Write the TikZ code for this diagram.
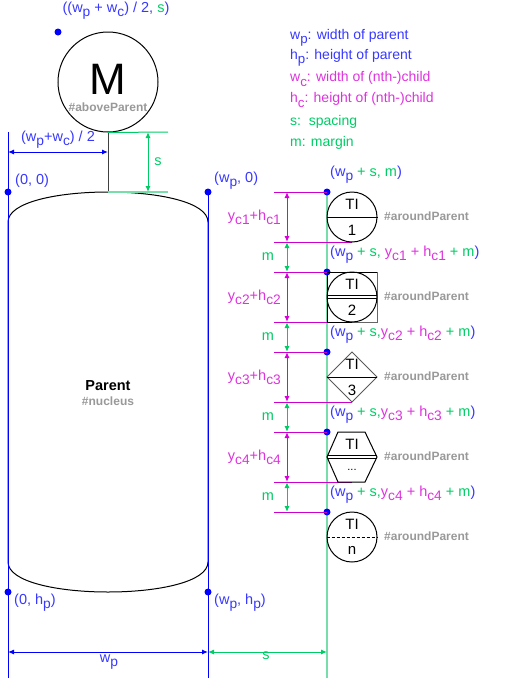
\documentclass[tikz,border=0pt]{standalone}
\usepackage{fontspec}
\setmainfont{Liberation Sans}
\usepackage{graphicx}
\usetikzlibrary{arrows.meta}
\definecolor{lblue}{HTML}{0000FF}
\definecolor{tblue}{HTML}{3838FF}
\definecolor{lmag}{HTML}{CC00CC}
\definecolor{tmag}{HTML}{DD33DD}
\definecolor{lgrn}{HTML}{00CC66}
\definecolor{pgrn}{HTML}{77DDAA}
\definecolor{pmag}{HTML}{DD77DD}
\definecolor{gry}{HTML}{999999}
\newcommand\sbs[1]{\raisebox{-0.55ex}{\scalebox{0.95}{#1}}}
\newcommand\gr[1]{\textcolor{lgrn}{#1}}
\newcommand\mg[1]{\textcolor{tmag}{#1}}
\begin{document}
\begin{tikzpicture}[x=1pt,y=-1pt,
  lbl/.style={font=\fontsize{14.5}{16}\selectfont, inner sep=0pt, text=tblue},
  leg/.style={font=\fontsize{14}{15}\selectfont, inner sep=0pt, anchor=west},
  tag/.style={font=\bfseries\fontsize{12}{14}\selectfont, text=gry, inner sep=0pt},
  dot/.style={circle, fill=lblue, inner sep=0pt, minimum size=7pt},
  dim/.style={{Latex[length=6pt,width=5pt]}-{Latex[length=6pt,width=5pt]}, line width=1pt},
  shp/.style={draw=black, line width=1pt},
  ctext/.style={font=\fontsize{15}{17}\selectfont, inner sep=0pt},
  cnode/.style={circle, draw, line width=1pt, minimum size=50pt, inner sep=0pt},
]
\useasboundingbox (0,0) rectangle (518,678);

% parent shape
\draw[shp] (8,222) .. controls (8,182) and (208,182) .. (208,222) -- (208,562)
  .. controls (208,602) and (8,602) .. (8,562) -- cycle;
\node[font=\bfseries\fontsize{14.5}{16}\selectfont, inner sep=0pt] (parent) at (108,386) {Parent};
\node[tag] (nucleus) at (108,401) {\#nucleus};

% guide lines
\draw[lblue, line width=1pt] (8,132) -- (8,678);
\draw[lblue, line width=1pt] (208,192) -- (208,678);
\draw[pgrn, line width=1.3pt] (327,192) -- (327,678);

% M node
\node[circle, draw, line width=1pt, minimum size=100pt, inner sep=0pt] (M) at (108,82) {};
\node[font=\fontsize{44}{44}\selectfont, inner sep=0pt] (Mt) at (108,79) {M};
\node[tag] (above) at (108,107) {\#aboveParent};
\coordinate (ptop) at (108,192);
\draw[line width=1pt, black!75] (M.south) -- (ptop);
\coordinate (sg1) at (168,132);
\coordinate (sg2) at (168,192);
\draw[lgrn, line width=1pt] (M.south) -- (sg1);
\draw[pgrn, line width=1.3pt] (ptop) -- (sg2);
\coordinate (sa1) at (148,132);
\coordinate (sa2) at (148,192);
\draw[dim, lgrn] (sa1) -- (sa2);
\node[lbl, text=lgrn] (slbl) at (158,162) {s};

\coordinate (h1) at (8,152);
\coordinate (h2) at (108,152);
\draw[dim, lblue] (h1) -- (h2);
\node[lbl] (hlbl) at (58,140) {(w\sbs{p}+w\sbs{c}) / 2};

\node[dot] (dM) at (58,32) {};
\node[lbl] (dMl) at (116,11) {((w\sbs{p} + w\sbs{c}) / 2, \gr{s})};

% corner dots
\node[dot] (d00) at (8,192) {};
\node[lbl, anchor=west] (d00l) at (15,181) {(0, 0)};
\node[dot] (dw0) at (208,192) {};
\node[lbl, anchor=west] (dw0l) at (214,181) {(w\sbs{p}, 0)};
\node[dot] (d0h) at (8,592) {};
\node[lbl, anchor=west] (d0hl) at (14,603) {(0, h\sbs{p})};
\node[dot] (dwh) at (208,592) {};
\node[lbl, anchor=west] (dwhl) at (214,603) {(w\sbs{p}, h\sbs{p})};

% bottom dims
\coordinate (b0) at (8,652);
\coordinate (b1) at (208,652);
\coordinate (b2) at (327,652);
\draw[dim, lblue] (b0) -- (b1);
\draw[dim, lgrn] (b1) -- (b2);
\node[lbl] (wpl) at (109,662) {w\sbs{p}};
\node[lbl, text=lgrn] (sl) at (266,656) {s};

% legend
\node[leg, text=tblue] (L1) at (290,38) {w\sbs{p}: width of parent};
\node[leg, text=tblue] (L2) at (290,58) {h\sbs{p}: height of parent};
\node[leg, text=tmag] (L3) at (290,79) {w\sbs{c}: width of (nth-)child};
\node[leg, text=tmag] (L4) at (290,100) {h\sbs{c}: height of (nth-)child};
\node[leg, text=lgrn] (L5) at (290,122) {s:\ \ spacing};
\node[leg, text=lgrn] (L6) at (290,143) {m: margin};

% child anchor dots
\node[dot] (k0) at (327,192) {};
\node[dot] (k1) at (327,272) {};
\node[dot] (k2) at (327,352) {};
\node[dot] (k3) at (327,432) {};
\node[dot] (k4) at (327,512) {};
\node[lbl, anchor=west] (k0l) at (330,175) {(w\sbs{p} \gr{+ s, m})};
\node[lbl, anchor=west] (k1l) at (330,255) {(w\sbs{p} \gr{+ s, \mg{y\sbs{c1} + h\sbs{c1}} + m})};
\node[lbl, anchor=west] (k2l) at (330,335) {(w\sbs{p} \gr{+ s,\mg{y\sbs{c2} + h\sbs{c2}} + m})};
\node[lbl, anchor=west] (k3l) at (330,415) {(w\sbs{p} \gr{+ s,\mg{y\sbs{c3} + h\sbs{c3}} + m})};
\node[lbl, anchor=west] (k4l) at (330,495) {(w\sbs{p} \gr{+ s,\mg{y\sbs{c4} + h\sbs{c4}} + m})};

% magenta reference lines
\coordinate (m0a) at (274,192); \coordinate (m0b) at (327,192);
\coordinate (m1a) at (274,242); \coordinate (m1b) at (352,242);
\coordinate (m2a) at (274,272); \coordinate (m2b) at (327,272);
\coordinate (m3a) at (274,322); \coordinate (m3b) at (377,322);
\coordinate (m4a) at (274,352); \coordinate (m4b) at (327,352);
\coordinate (m5a) at (274,402); \coordinate (m5b) at (352,402);
\coordinate (m6a) at (274,432); \coordinate (m6b) at (327,432);
\coordinate (m7a) at (274,482); \coordinate (m7b) at (352,482);
\coordinate (m8a) at (274,512); \coordinate (m8b) at (327,512);
\foreach \i in {0,...,8} { \draw[lmag, line width=1pt] (m\i a) -- (m\i b); }

% vertical dimension arrows
\foreach \a/\b in {0/1,2/3,4/5,6/7} {
  \draw[dim, lmag!70!magenta] ([xshift=13pt]m\a a) -- ([xshift=13pt]m\b a);
}
\foreach \a/\b in {1/2,3/4,5/6,7/8} {
  \draw[dim, lgrn] ([xshift=13pt]m\a a) -- ([xshift=13pt]m\b a);
}
\node[lbl, text=tmag, anchor=east] (y1) at (281,217) {y\sbs{c1}+h\sbs{c1}};
\node[lbl, text=tmag, anchor=east] (y2) at (281,297) {y\sbs{c2}+h\sbs{c2}};
\node[lbl, text=tmag, anchor=east] (y3) at (281,377) {y\sbs{c3}+h\sbs{c3}};
\node[lbl, text=tmag, anchor=east] (y4) at (281,457) {y\sbs{c4}+h\sbs{c4}};
\node[lbl, text=lgrn] (mm1) at (268,257) {m};
\node[lbl, text=lgrn] (mm2) at (268,337) {m};
\node[lbl, text=lgrn] (mm3) at (268,417) {m};
\node[lbl, text=lgrn] (mm4) at (268,497) {m};

% child 1
\node[cnode] (c1) at (352,217) {};
\draw[line width=1pt] (c1.west) -- (c1.east);
\node[ctext] (c1t) at (352,204) {TI};
\node[ctext] (c1n) at (352,230) {1};
% child 2
\draw[line width=1pt] (352,322) -- (327,322) -- (327,272) -- (377,272);
\draw[line width=1pt, black!60] (377,272) -- (377,322) -- (352,322);
\node[cnode] (c2) at (352,297) {};
\draw[line width=0.9pt] (327,295.5) -- (377,295.5);
\draw[line width=0.9pt] (327,298.7) -- (377,298.7);
\node[ctext] (c2t) at (352,284) {TI};
\node[ctext] (c2n) at (352,310) {2};
% child 3
\draw[line width=1pt, black!65] (352,352) -- (377,377) -- (352,402) -- (327,377) -- cycle;
\draw[line width=1pt] (327,377) -- (377,377);
\node[ctext] (c3t) at (352,364) {TI};
\node[ctext] (c3n) at (352,390) {3};
% child 4
\draw[line width=1pt] (338,432) -- (365,432) -- (377,457) -- (365,482) -- (338,482) -- (327,457) -- cycle;
\draw[line width=0.9pt] (327,455.7) -- (377,455.7);
\draw[line width=0.9pt] (327,458.7) -- (377,458.7);
\node[ctext] (c4t) at (352,444) {TI};
\node[font=\fontsize{11}{12}\selectfont, inner sep=0pt] (c4n) at (352,470) {...};
% child n
\node[cnode] (c5) at (352,537) {};
\draw[line width=1pt, dashed, dash pattern=on 3pt off 2pt] (c5.west) -- (c5.east);
\node[ctext] (c5t) at (352,524) {TI};
\node[ctext] (c5n) at (352,550) {n};

% tags
\node[tag, anchor=west] (t1) at (384,216) {\#aroundParent};
\node[tag, anchor=west] (t2) at (384,296) {\#aroundParent};
\node[tag, anchor=west] (t3) at (384,376) {\#aroundParent};
\node[tag, anchor=west] (t4) at (384,456) {\#aroundParent};
\node[tag, anchor=west] (t5) at (384,536) {\#aroundParent};
\end{tikzpicture}
\end{document}
